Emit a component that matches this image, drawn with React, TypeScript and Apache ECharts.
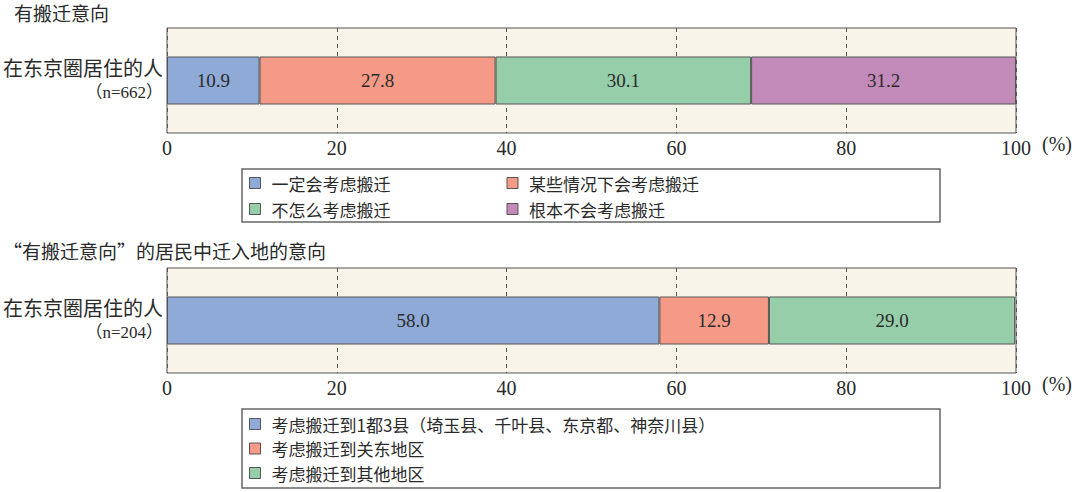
import React, { useEffect, useRef } from "react";
import * as echarts from "echarts";

const topTitle = "有搬迁意向";
const bottomTitle = "“有搬迁意向”的居民中迁入地的意向";
const topCategories = ["在东京圈居住的人\n（n=662）"];
const bottomCategories = ["在东京圈居住的人\n（n=204）"];
const topNames = ["一定会考虑搬迁", "某些情况下会考虑搬迁", "不怎么考虑搬迁", "根本不会考虑搬迁"];
const topValues = [10.9, 27.8, 30.1, 31.2];
const bottomNames = [
  "考虑搬迁到1都3县（埼玉县、千叶县、东京都、神奈川县）",
  "考虑搬迁到关东地区",
  "考虑搬迁到其他地区",
];
const bottomValues = [58.0, 12.9, 29.0];
const xTicks = [0, 20, 40, 60, 80, 100];
const unitLabel = "(%)";

const topColors = ["#8faad6", "#f59a87", "#96ceaa", "#c28ab8"];
const bottomColors = ["#8faad6", "#f59a87", "#96ceaa"];

const CJK = "'Noto Sans CJK SC', 'Noto Sans', sans-serif";
const SERIF = "'Liberation Serif', 'Noto Sans CJK SC', serif";
const TXT = "#2a2a2a";

function xAxisDef(gridIndex: number) {
  return {
    type: "value",
    gridIndex,
    min: xTicks[0],
    max: xTicks[xTicks.length - 1],
    interval: xTicks[1] - xTicks[0],
    axisLine: { show: false },
    axisTick: { show: false },
    axisLabel: { fontFamily: SERIF, fontSize: 20, color: TXT, margin: 5 },
    splitLine: { show: true, lineStyle: { type: [4, 4], color: "#555", width: 1 } },
  };
}

function yAxisDef(gridIndex: number, data: string[]) {
  return {
    type: "category",
    gridIndex,
    data,
    axisLine: { show: false },
    axisTick: { show: false },
    splitLine: { show: false },
    axisLabel: {
      margin: 4,
      formatter: (v: string) => {
        const [a, b] = v.split("\n");
        return `{a|${a}}\n{b|${b}}`;
      },
      rich: {
        a: { fontFamily: CJK, fontSize: 20, color: TXT, lineHeight: 20, align: "right" },
        b: { fontFamily: SERIF, fontSize: 17, color: TXT, lineHeight: 26, align: "right", padding: [4, 0, 0, 0] },
      },
    },
  };
}

function barSeries(name: string, value: number, color: string, idx: number, stack: string) {
  return {
    type: "bar",
    name,
    stack,
    xAxisIndex: idx,
    yAxisIndex: idx,
    barWidth: 48,
    data: [value],
    itemStyle: { color, borderColor: "#555", borderWidth: 1 },
    label: {
      show: true,
      position: "inside",
      fontFamily: SERIF,
      fontSize: 19,
      color: TXT,
      formatter: (p: any) => Number(p.value).toFixed(1),
    },
  };
}

const legendText = { fontFamily: CJK, fontSize: 17, color: TXT, lineHeight: 20, padding: [0, 0, 0, 6] };
const legendItemStyle = { borderColor: "#555", borderWidth: 1 };

export default function App() {
  const ref = useRef<HTMLDivElement>(null);
  useEffect(() => {
    if (!ref.current) return;
    const chart = echarts.init(ref.current, undefined, { renderer: "svg" });
    const option: any = {
      animation: false,
      backgroundColor: "#ffffff",
      grid: [
        { left: 167, right: 64, top: 28, height: 105, show: true, backgroundColor: "#f8f4ea", borderColor: "#555", borderWidth: 1 },
        { left: 167, right: 64, top: 268, height: 105, show: true, backgroundColor: "#f8f4ea", borderColor: "#555", borderWidth: 1 },
      ],
      xAxis: [xAxisDef(0), xAxisDef(1)],
      yAxis: [yAxisDef(0, topCategories), yAxisDef(1, bottomCategories)],
      legend: [
        {
          data: topNames.slice(0, 2), left: 249, top: 173, padding: 0, itemGap: 116,
          itemWidth: 11, itemHeight: 11, icon: "rect", textStyle: legendText, itemStyle: legendItemStyle,
          selectedMode: false,
        },
        {
          data: topNames.slice(2, 4), left: 249, top: 199, padding: 0, itemGap: 116,
          itemWidth: 11, itemHeight: 11, icon: "rect", textStyle: legendText, itemStyle: legendItemStyle,
          selectedMode: false,
        },
        {
          data: bottomNames, left: 249, top: 414, padding: 0, itemGap: 4.5, orient: "vertical",
          itemWidth: 11, itemHeight: 11, icon: "rect", textStyle: legendText, itemStyle: legendItemStyle,
          selectedMode: false,
        },
      ],
      graphic: [
        { type: "rect", z: 0, shape: { x: 242, y: 169, width: 698, height: 53 }, style: { fill: "#fff", stroke: "#666", lineWidth: 1.5 } },
        { type: "rect", z: 0, shape: { x: 242, y: 409, width: 698, height: 79 }, style: { fill: "#fff", stroke: "#666", lineWidth: 1.5 } },
        { type: "text", left: 14, top: 3, style: { text: topTitle, font: `19px ${CJK}`, fill: TXT } },
        { type: "text", left: 3, top: 241, style: { text: bottomTitle, font: `19px ${CJK}`, fill: TXT } },
        { type: "text", left: 1042, top: 134, style: { text: unitLabel, font: `20px ${SERIF}`, fill: TXT } },
        { type: "text", left: 1042, top: 374, style: { text: unitLabel, font: `20px ${SERIF}`, fill: TXT } },
      ],
      series: [
        ...topNames.map((n, i) => barSeries(n, topValues[i], topColors[i], 0, "top")),
        ...bottomNames.map((n, i) => barSeries(n, bottomValues[i], bottomColors[i], 1, "bottom")),
      ],
    };
    chart.setOption(option);
    return () => chart.dispose();
  }, []);
  return (
    <div
      ref={ref}
      style={{ position: "fixed", left: 0, top: 0, width: 1080, height: 492, background: "#fff" }}
    />
  );
}
